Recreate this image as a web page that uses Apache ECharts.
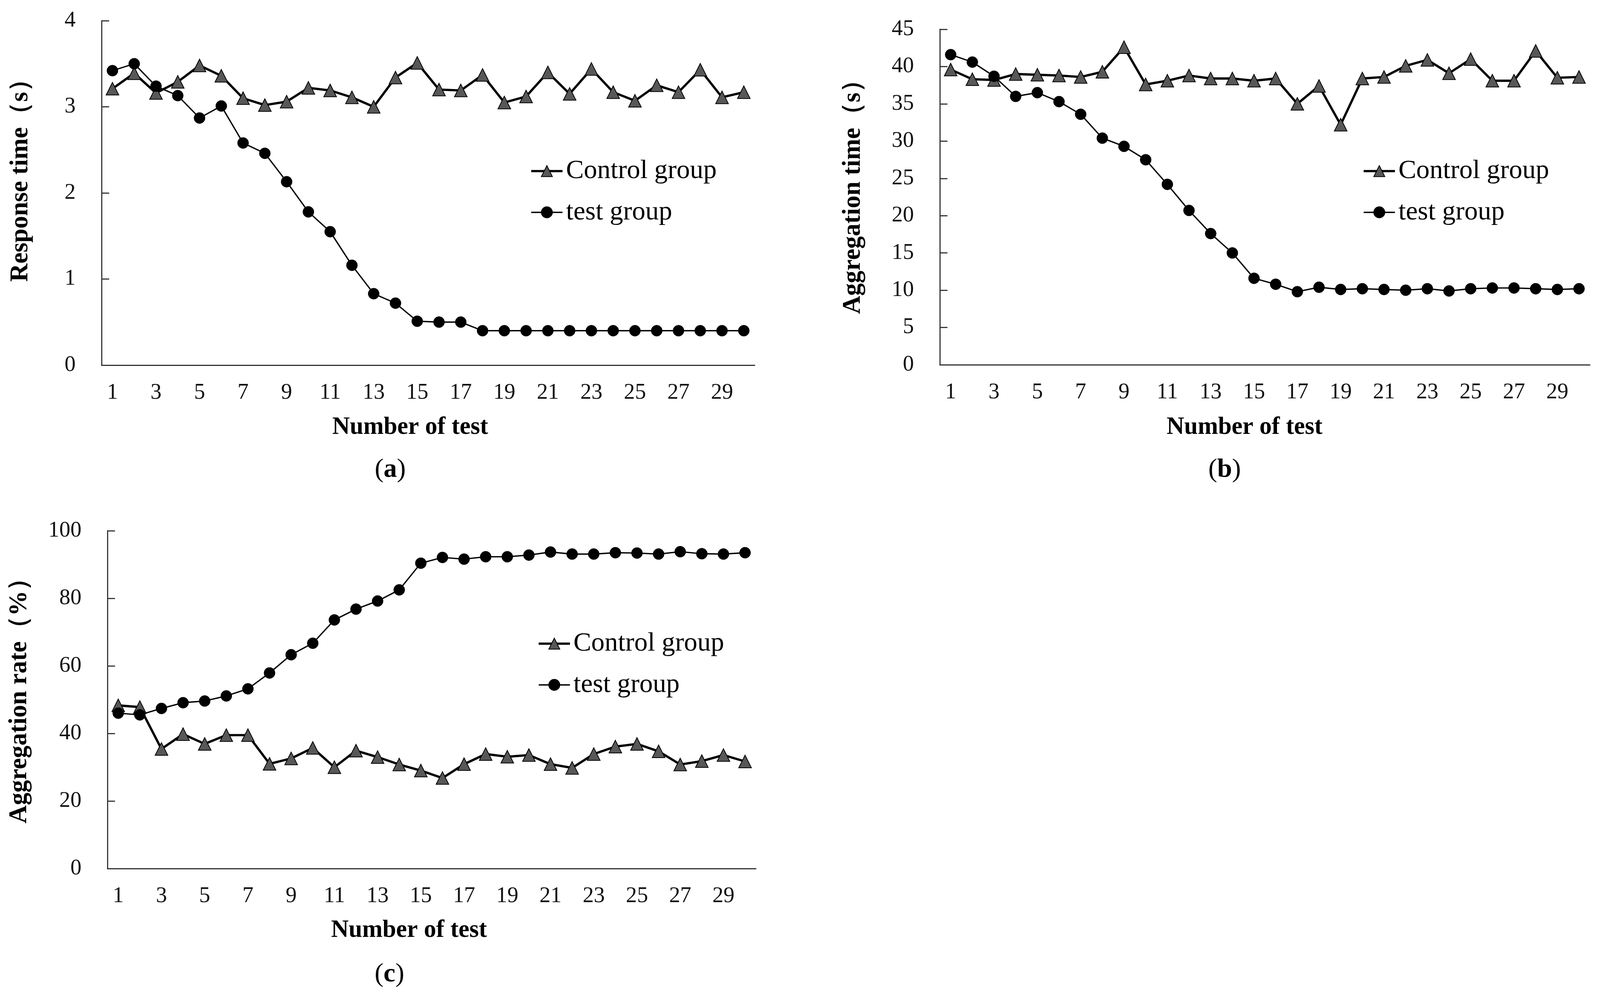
<!DOCTYPE html>
<html>
<head>
<meta charset="utf-8">
<script src="https://cdn.jsdelivr.net/npm/echarts@6/dist/echarts.min.js"></script>
<style>
html,body{margin:0;padding:0;background:#fff;overflow:hidden;width:100%;height:100%;}
#chart{width:100vw;height:100vh;}
</style>
</head>
<body>
<div id="chart"></div>
<script>
var categories = ['1','2','3','4','5','6','7','8','9','10','11','12','13','14','15','16','17','18','19','20','21','22','23','24','25','26','27','28','29','30'];
var respControl = [3.21,3.39,3.16,3.29,3.48,3.36,3.10,3.02,3.06,3.22,3.19,3.11,3.00,3.34,3.51,3.20,3.19,3.37,3.05,3.12,3.40,3.15,3.44,3.17,3.07,3.25,3.17,3.43,3.11,3.17];
var respTest = [3.42,3.50,3.24,3.13,2.87,3.01,2.58,2.46,2.13,1.78,1.55,1.16,0.83,0.72,0.51,0.50,0.50,0.40,0.40,0.40,0.40,0.40,0.40,0.40,0.40,0.40,0.40,0.40,0.40,0.40];
var aggTimeControl = [39.6,38.3,38.2,39.0,38.9,38.8,38.6,39.3,42.6,37.6,38.1,38.8,38.4,38.4,38.1,38.4,35.0,37.4,32.2,38.4,38.6,40.1,40.9,39.1,41.0,38.1,38.1,42.1,38.5,38.6];
var aggTimeTest = [41.6,40.6,38.7,36.0,36.5,35.3,33.6,30.4,29.3,27.5,24.2,20.7,17.6,15.0,11.6,10.8,9.8,10.4,10.1,10.2,10.1,10.0,10.2,9.9,10.2,10.3,10.3,10.2,10.1,10.2];
var aggRateControl = [48.3,47.8,35.4,39.8,36.9,39.5,39.5,31.0,32.6,35.7,30.0,34.9,33.0,30.8,29.0,26.8,30.9,33.9,33.1,33.6,30.9,29.8,33.9,36.1,36.9,34.7,30.8,31.8,33.6,31.7];
var aggRateTest = [46.0,45.5,47.4,49.1,49.6,51.1,53.2,57.9,63.3,66.7,73.6,76.8,79.2,82.5,90.4,92.1,91.6,92.3,92.3,92.8,93.7,93.1,93.1,93.5,93.4,93.1,93.8,93.2,93.1,93.5];

var FONT = "'Liberation Serif','Times New Roman',serif";
var el = document.getElementById('chart');
var W = el.clientWidth || window.innerWidth, H = el.clientHeight || window.innerHeight;
var sx = W / 4191, sy = H / 2558, sf = Math.min(sx, sy);
function X(v){ return Math.round(v * sx); }
function Y(v){ return Math.round(v * sy); }
function F(v){ return Math.round(v * sf * 10) / 10; }

var chart = echarts.init(el);

function xAx(gi){
  return {
    type:'category', gridIndex:gi, data:categories, boundaryGap:true,
    axisLine:{lineStyle:{color:'#333',width:F(3)}},
    axisTick:{inside:true,length:F(20),interval:1,lineStyle:{color:'#333',width:F(3)}},
    axisLabel:{interval:1,margin:F(44),fontSize:F(58),fontFamily:FONT,color:'#111'},
    splitLine:{show:false}
  };
}
function yAx(gi,max,step){
  return {
    type:'value', gridIndex:gi, min:0, max:max, interval:step,
    axisLine:{show:true,lineStyle:{color:'#333',width:F(3)}},
    axisTick:{show:true,inside:true,length:F(20),lineStyle:{color:'#333',width:F(3)}},
    axisLabel:{margin:F(68),fontSize:F(58),fontFamily:FONT,color:'#111'},
    splitLine:{show:false}
  };
}
function ctrlSeries(gi,data){
  return {name:'Control group',type:'line',xAxisIndex:gi,yAxisIndex:gi,data:data,
    symbol:'triangle',symbolSize:F(33),
    lineStyle:{color:'#000',width:F(6)},
    itemStyle:{color:'#585858',borderColor:'#000',borderWidth:F(2)},
    emphasis:{disabled:true},animation:false};
}
function testSeries(gi,data){
  return {name:'test group',type:'line',xAxisIndex:gi,yAxisIndex:gi,data:data,
    symbol:'circle',symbolSize:F(29),
    lineStyle:{color:'#000',width:F(3.5)},
    itemStyle:{color:'#000',borderColor:'#000',borderWidth:1},
    emphasis:{disabled:true},animation:false};
}
function leg(left,top){
  return {orient:'vertical',left:X(left),top:Y(top),itemWidth:F(82),itemHeight:F(36),itemGap:F(28),
    data:[
      {name:'Control group',lineStyle:{width:F(6),color:'#000'},itemStyle:{color:'#585858',borderColor:'#000',borderWidth:F(2)}},
      {name:'test group',lineStyle:{width:F(3.5),color:'#000'},itemStyle:{color:'#000'}}
    ],
    selectedMode:false,
    textStyle:{fontSize:F(70),lineHeight:F(80),fontFamily:FONT,color:'#000',padding:[0,0,0,F(4)]}};
}
function txt(x,y,text,size,rot,bold){
  return {type:'text',x:X(x),y:Y(y),rotation:rot||0,
    style:{text:text,font:(bold?'bold ':'')+F(size)+"px "+FONT,fill:'#000',textAlign:'center',textVerticalAlign:'middle'}};
}
function panelLabel(x,y,letter){
  return {type:'text',x:X(x),y:Y(y),
    style:{text:'({b|'+letter+'})',fill:'#000',textAlign:'center',textVerticalAlign:'middle',
      font:F(70)+"px "+FONT,
      rich:{b:{fontWeight:'bold',fontSize:F(70),fontFamily:FONT,fill:'#000'}}}};
}

var option = {
  backgroundColor:'#fff',
  animation:false,
  grid:[
    {left:X(266),top:Y(53),width:X(1711),height:Y(882),outerBoundsMode:'none'},
    {left:X(2462),top:Y(75),width:X(1703),height:Y(859),outerBoundsMode:'none'},
    {left:X(281),top:Y(1359),width:X(1698),height:Y(865),outerBoundsMode:'none'}
  ],
  xAxis:[xAx(0),xAx(1),xAx(2)],
  yAxis:[yAx(0,4,1),yAx(1,45,5),yAx(2,100,20)],
  legend:[leg(1383,394),leg(3564,394),leg(1403,1604)],
  series:[
    ctrlSeries(0,respControl),testSeries(0,respTest),
    ctrlSeries(1,aggTimeControl),testSeries(1,aggTimeTest),
    ctrlSeries(2,aggRateControl),testSeries(2,aggRateTest)
  ],
  graphic:[
    txt(54,446,'Response time（s）',66,Math.PI/2,true),
    txt(2235,488,'Aggregation time（s）',66,Math.PI/2,true),
    txt(51,1778,'Aggregation rate（%）',66,Math.PI/2,true),
    txt(1074,1095,'Number of test',64,0,true),
    txt(3260,1095,'Number of test',64,0,true),
    txt(1071,2383,'Number of test',64,0,true),
    panelLabel(1022,1203,'a'),
    panelLabel(3208,1203,'b'),
    panelLabel(1020,2495,'c')
  ]
};
chart.setOption(option);
</script>
</body>
</html>
